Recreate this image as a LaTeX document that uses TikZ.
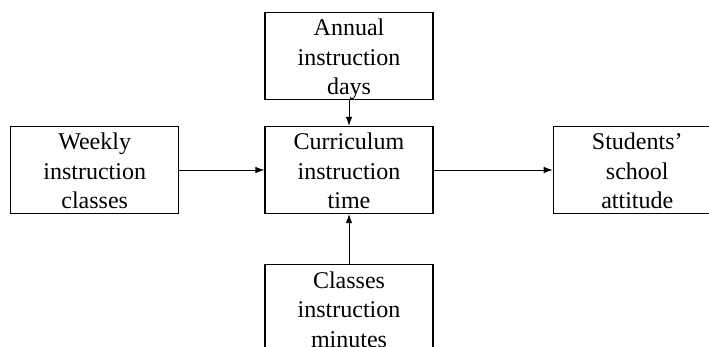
\documentclass[tikz,border=0pt]{standalone}
\usepackage{fontspec}
\setmainfont{Liberation Serif}
\usetikzlibrary{
  arrows.meta,
  positioning
}
% box text: three lines hung from the top of the box
\newcommand{\boxtext}[1]{\parbox[c][87pt][t]{168pt}{\centering\rule{0pt}{23.5pt}#1}}
\tikzset{
  >={Latex[length=9pt,width=6.5pt]},
  every picture/.style={line join=miter},
  factor/.style={
    draw=black,
    line width=1.3pt,
    minimum width=168pt,
    minimum height=87pt,
    inner sep=0pt,
    font=\fontsize{24}{29.5}\selectfont
  },
  link/.style={->, line width=0.8pt, draw=black}
}

\begin{document}
\begin{tikzpicture}[x=1pt, y=1pt]
  \clip (0,0) rectangle (709,347);

  % Central factor
  \node[factor] (curr) at (349,177) {\boxtext{Curriculum\\instruction\\time}};

  % Surrounding factors
  \node[factor, above=26pt of curr] (annual) {\boxtext{Annual\\instruction\\days}};
  \node[factor, below=50pt of curr] (minutes) {\boxtext{Classes\\instruction\\minutes}};
  \node[factor, left=85pt of curr] (weekly) {\boxtext{Weekly\\instruction\\classes}};
  \node[factor, right=119pt of curr] (attitude) {\boxtext{Students'\\school\\attitude}};

  % Links
  \draw[link] (annual) -- (curr);
  \draw[link] (minutes) -- (curr);
  \draw[link] (weekly) -- (curr);
  \draw[link] (curr) -- (attitude);
\end{tikzpicture}
\end{document}
